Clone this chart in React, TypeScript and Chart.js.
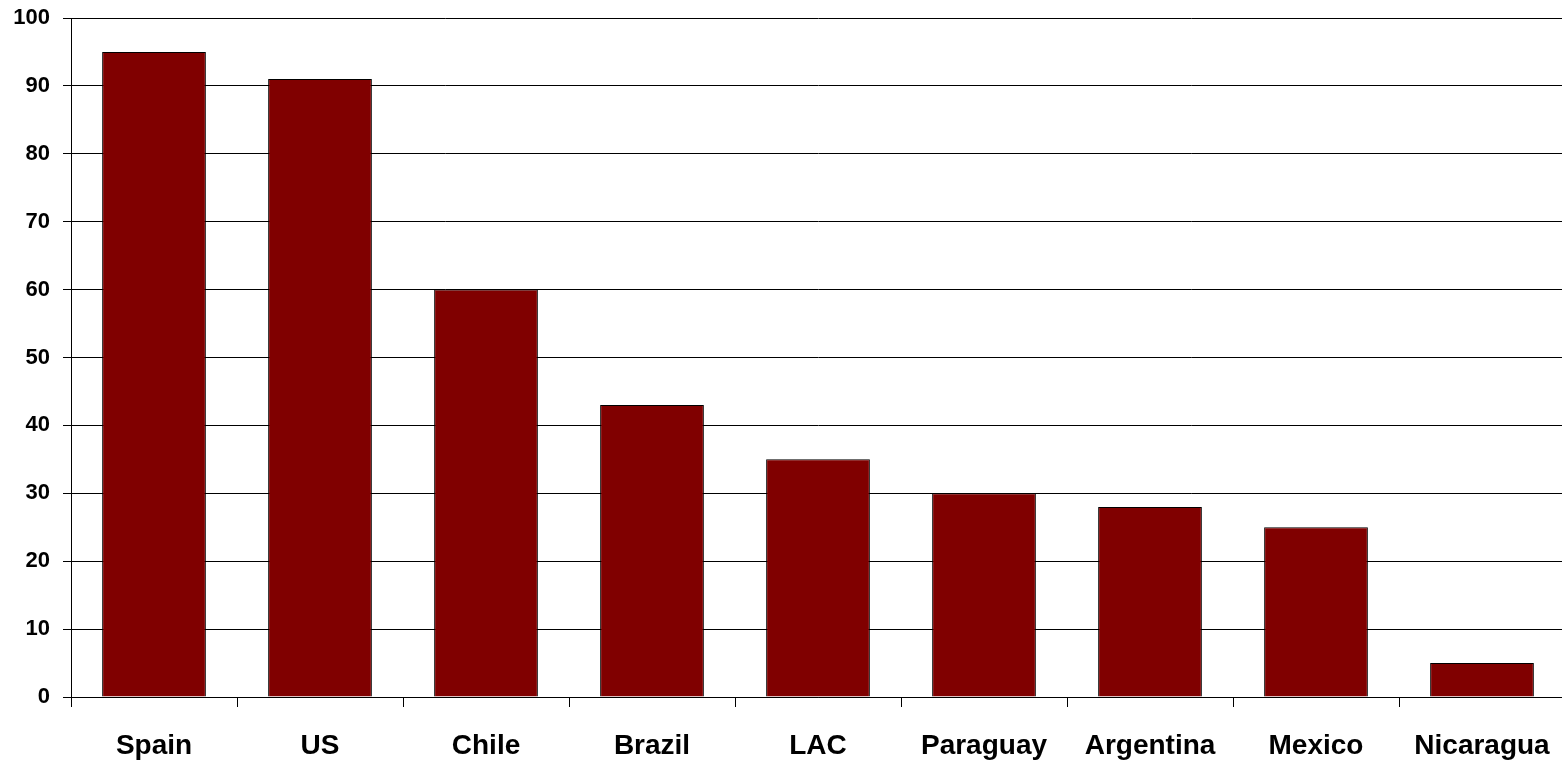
import React, { useEffect, useRef } from "react";
import { Chart, registerables } from "chart.js";

Chart.register(...registerables);

const categories = ["Spain", "US", "Chile", "Brazil", "LAC", "Paraguay", "Argentina", "Mexico", "Nicaragua"];
const values = [95, 91, 60, 43, 35, 30, 28, 25, 5];
const yTicks = [0, 10, 20, 30, 40, 50, 60, 70, 80, 90, 100];

const FONT = "'Liberation Sans', Arial, sans-serif";

export default function App() {
  const ref = useRef<HTMLCanvasElement | null>(null);
  useEffect(() => {
    if (!ref.current) return;
    const chart = new Chart(ref.current, {
      type: "bar",
      data: {
        labels: categories,
        datasets: [
          {
            data: values,
            backgroundColor: "#800000",
            borderColor: "#000000",
            borderWidth: 1,
            categoryPercentage: 1,
            barPercentage: 0.625,
          },
        ],
      },
      options: {
        animation: false,
        responsive: false,
        maintainAspectRatio: false,
        layout: { padding: { top: 18, right: 0, bottom: 0, left: 0 } },
        plugins: { legend: { display: false }, tooltip: { enabled: false } },
        scales: {
          x: {
            offset: true,
            grid: { drawOnChartArea: false, offset: true, tickLength: 10, color: "#000", lineWidth: 1 },
            border: { color: "#000", width: 1 },
            ticks: { color: "#000", font: { family: FONT, size: 28, weight: "bold" }, padding: 22, maxRotation: 0, autoSkip: false },
            afterFit: (s: any) => { s.height = 65; s.paddingLeft = 0; s.paddingRight = 0; },
          },
          y: {
            min: 0,
            max: 100,
            afterBuildTicks: (s: any) => { s.ticks = yTicks.map((v) => ({ value: v })); },
            grid: { color: "#000", lineWidth: 1, tickLength: 8 },
            border: { color: "#000", width: 1 },
            ticks: { color: "#000", font: { family: FONT, size: 22, weight: "bold" }, padding: 13 },
            afterFit: (s: any) => { s.width = 71; s.paddingTop = 0; s.paddingBottom = 0; },
          },
        },
      },
    });
    return () => chart.destroy();
  }, []);
  return (
    <div style={{ position: "fixed", left: 0, top: 0, width: 1562, height: 762, overflow: "hidden", background: "#fff" }}>
      <canvas ref={ref} width={1565} height={762} style={{ display: "block", width: 1565, height: 762 }} />
    </div>
  );
}
